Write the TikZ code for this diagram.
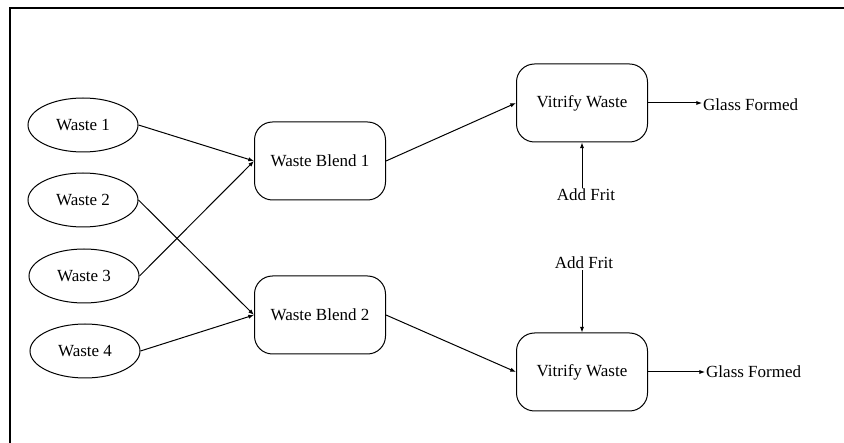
\documentclass[tikz,border=0pt]{standalone}
\usepackage{fontspec}
\setmainfont{Liberation Serif}
\usetikzlibrary{arrows.meta, positioning, shapes.geometric}

\begin{document}
\begin{tikzpicture}[
    x=1pt, y=-1pt,
    every node/.style={font=\fontsize{17}{20}\selectfont},
    flow/.style={draw, line width=1pt, -{Latex[length=2mm]}},
    waste/.style={ellipse, draw, line width=1pt, inner sep=0pt,
                  minimum width=110pt, minimum height=54pt},
    blend/.style={rectangle, draw, line width=1pt, rounded corners=18pt,
                  minimum width=131pt, minimum height=78pt, align=center},
    label/.style={inner sep=1pt},
  ]
    \useasboundingbox (0,0) rectangle (844,443);
    \draw[line width=1.1pt] (844,8) -- (10,8) -- (10,443);

    \node[waste] (w1) at (83,125) {Waste 1};
    \node[waste] (w2) at (83,200) {Waste 2};
    \node[waste] (w3) at (84,276) {Waste 3};
    \node[waste] (w4) at (85,351) {Waste 4};

    \node[blend] (b1) at (320,161) {Waste Blend 1};
    \node[blend] (b2) at (320,315) {Waste Blend 2};

    \node[blend] (v1) at (582,103) {Vitrify Waste};
    \node[blend] (v2) at (582,372) {Vitrify Waste};

    \node[label, anchor=west] (g1) at (702,105) {Glass Formed};
    \node[label, anchor=west] (g2) at (705,372) {Glass Formed};
    \node[label] (f1) at (586,195) {Add Frit};
    \node[label] (f2) at (584,263) {Add Frit};

    \draw[flow] (w1.east) -- (b1.west);
    \draw[flow] (w3.east) -- (b1.west);
    \draw[flow] (w2.east) -- (b2.west);
    \draw[flow] (w4.east) -- (b2.west);
    \draw[flow] (b1.east) -- (v1.west);
    \draw[flow] (b2.east) -- (v2.west);
    \draw[flow] (v1.east) -- (v1.east -| g1.west);
    \draw[flow] (v2.east) -- (v2.east -| g2.west);
    \draw[flow] (f1.north -| v1.south) -- (v1.south);
    \draw[flow] (f2.south -| v2.north) -- (v2.north);
  \end{tikzpicture}
\end{document}
